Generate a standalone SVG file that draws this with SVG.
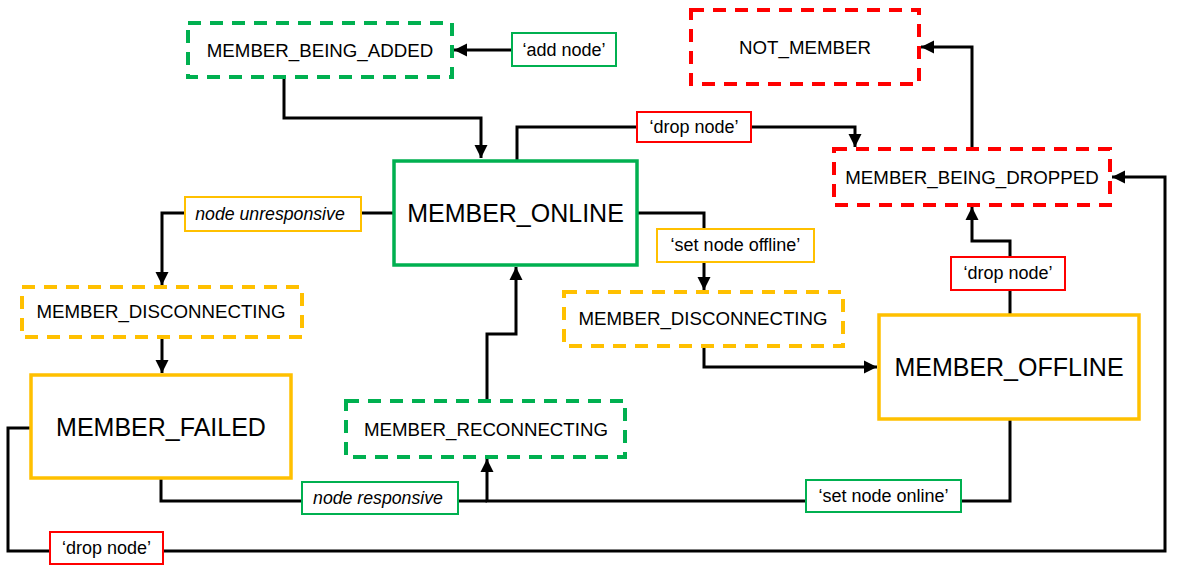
<svg xmlns="http://www.w3.org/2000/svg" width="1177" height="576" viewBox="0 0 1177 576">
<style>
.bg{fill:#fff}
.solid{fill:#fff;stroke-width:3.5}
.dash{fill:#fff;stroke-width:4;stroke-dasharray:13 9}
.g{stroke:#00B050}.y{stroke:#FFC000}.r{stroke:#FF0000}
.lbl{fill:#fff;stroke-width:2}
.t{font-family:"Liberation Sans",Arial,sans-serif;fill:#000;text-anchor:middle}
.big{font-size:25px}.mid{font-size:18.7px}.sm{font-size:18px}.it{font-style:italic;font-size:17.7px}
.c{fill:none;stroke:#000;stroke-width:3}
</style>
<defs>
<marker id="ah" markerUnits="userSpaceOnUse" markerWidth="14" markerHeight="14" refX="13" refY="7" orient="auto">
<path d="M0,0.5 L13,7 L0,13.5 z" fill="#000"/>
</marker>
</defs>
<rect class="bg" width="1177" height="576"/>
<g id="connectors">
<path class="c" d="M512,50 H454" marker-end="url(#ah)"/>
<path class="c" d="M284,77 V118 H481 V158" marker-end="url(#ah)"/>
<path class="c" d="M517,160 V127 H855 V147" marker-end="url(#ah)"/>
<path class="c" d="M972,149 V47 H921" marker-end="url(#ah)"/>
<path class="c" d="M394,213 H162 V285" marker-end="url(#ah)"/>
<path class="c" d="M162,337 V373" marker-end="url(#ah)"/>
<path class="c" d="M638,213 H704 V290" marker-end="url(#ah)"/>
<path class="c" d="M704,346 V367 H877" marker-end="url(#ah)"/>
<path class="c" d="M1010,315 V241 H972 V207" marker-end="url(#ah)"/>
<path class="c" d="M1010,419 V501 H487 V459" marker-end="url(#ah)"/>
<path class="c" d="M161,478 V501 H487"/>
<path class="c" d="M31,428 H8 V551 H1165 V177 H1112" marker-end="url(#ah)"/>
<path class="c" d="M487,401 V334 H516 V267" marker-end="url(#ah)"/>
</g>
<g id="member_being_added"><rect class="dash g" x="188" y="23" width="264" height="54"/><text class="t mid" x="320" y="57">MEMBER_BEING_ADDED</text></g>
<g id="not_member"><rect class="dash r" x="691" y="10" width="228" height="74"/><text class="t mid" x="805" y="54">NOT_MEMBER</text></g>
<g id="member_online"><rect class="solid g" x="394" y="161" width="243" height="104"/><text class="t big" x="515.5" y="222">MEMBER_ONLINE</text></g>
<g id="member_being_dropped"><rect class="dash r" x="834" y="149" width="276" height="56"/><text class="t mid" x="972" y="184">MEMBER_BEING_DROPPED</text></g>
<g id="member_disconnecting_left"><rect class="dash y" x="22" y="287" width="280" height="50"/><text class="t mid" x="161" y="318">MEMBER_DISCONNECTING</text></g>
<g id="member_disconnecting_right"><rect class="dash y" x="564" y="292" width="279" height="54"/><text class="t mid" x="703" y="325">MEMBER_DISCONNECTING</text></g>
<g id="member_offline"><rect class="solid y" x="879" y="315" width="260" height="104"/><text class="t big" x="1009" y="376">MEMBER_OFFLINE</text></g>
<g id="member_failed"><rect class="solid y" x="31" y="375" width="260" height="103"/><text class="t big" x="161" y="436">MEMBER_FAILED</text></g>
<g id="member_reconnecting"><rect class="dash g" x="346" y="401" width="279" height="56"/><text class="t mid" x="486" y="436">MEMBER_RECONNECTING</text></g>
<g id="lbl_add_node"><rect class="lbl g" x="512" y="33" width="104" height="33"/><text class="t sm" x="564" y="56">‘add node’</text></g>
<g id="lbl_drop_node_top"><rect class="lbl r" x="637" y="112" width="114" height="30"/><text class="t sm" x="694" y="133">‘drop node’</text></g>
<g id="lbl_node_unresponsive"><rect class="lbl y" x="185" y="197" width="176" height="34"/><text class="t it" x="270" y="220">node unresponsive</text></g>
<g id="lbl_set_node_offline"><rect class="lbl y" x="657" y="229" width="157" height="33"/><text class="t sm" x="735.5" y="251">‘set node offline’</text></g>
<g id="lbl_drop_node_right"><rect class="lbl r" x="951" y="257" width="114" height="33"/><text class="t sm" x="1008" y="279">‘drop node’</text></g>
<g id="lbl_node_responsive"><rect class="lbl g" x="302" y="482" width="156" height="32"/><text class="t it" x="378" y="504">node responsive</text></g>
<g id="lbl_set_node_online"><rect class="lbl g" x="806" y="480" width="155" height="32"/><text class="t sm" x="883.5" y="502">‘set node online’</text></g>
<g id="lbl_drop_node_bottom"><rect class="lbl r" x="50" y="532" width="113" height="32"/><text class="t sm" x="106.5" y="554">‘drop node’</text></g>
</svg>
